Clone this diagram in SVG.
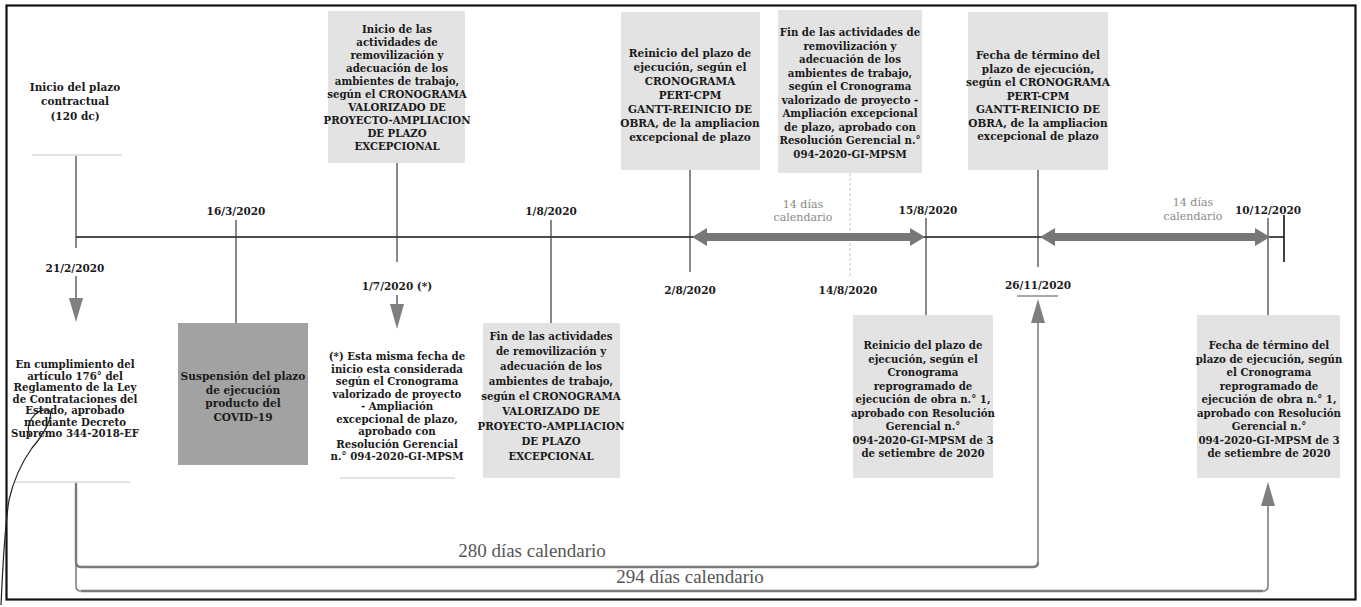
<svg xmlns="http://www.w3.org/2000/svg" width="1361" height="607" viewBox="0 0 1361 607">
<style>
.t{font-family:"DejaVu Serif","Liberation Serif",serif;font-weight:bold;font-size:10.2px;fill:#1a1a1a;text-anchor:middle}
.d{font-family:"DejaVu Serif","Liberation Serif",serif;font-weight:bold;font-size:10.5px;fill:#1a1a1a;text-anchor:middle}
.g{font-family:"DejaVu Serif","Liberation Serif",serif;font-size:11px;fill:#8a8a8a;text-anchor:middle}
.big{font-family:"Liberation Serif",serif;font-size:19px;fill:#555;text-anchor:middle}
.box{fill:#e3e3e3}
.dark{fill:#a2a2a2}
.v{stroke:#3a3a3a;stroke-width:1.2;fill:none}
.vg{stroke:#808080;stroke-width:1.6;fill:none}
.br{stroke:#7a7a7a;stroke-width:2.4;fill:none}
.ah{fill:#7f7f7f}
.dbl{fill:#777}
.faint{stroke:#e2e2e2;stroke-width:2}
</style>
<rect x="0" y="0" width="1361" height="607" fill="#fff"/>
<rect x="6.5" y="5.5" width="1349" height="594" fill="none" stroke="#111" stroke-width="2.2"/>

<g id="connectors">
  <line x1="76" y1="237" x2="1284" y2="237" stroke="#111" stroke-width="1.4"/>
  <line x1="1284" y1="215" x2="1284" y2="262" stroke="#111" stroke-width="1.6"/>
  <line class="v" x1="76" y1="155" x2="76" y2="248"/>
  <line class="v" x1="76" y1="276" x2="76" y2="300"/>
  <line class="v" x1="236" y1="220" x2="236" y2="323"/>
  <line class="v" x1="397" y1="163" x2="397" y2="262"/>
  <line class="v" x1="397" y1="295" x2="397" y2="304"/>
  <line class="v" x1="551" y1="220" x2="551" y2="323"/>
  <line class="v" x1="690" y1="170" x2="690" y2="272"/>
  <line x1="850" y1="173" x2="850" y2="276" stroke="#c4c4c4" stroke-width="1" stroke-dasharray="3 2"/>
  <line class="v" x1="926" y1="218" x2="926" y2="315"/>
  <line class="v" x1="1038" y1="170" x2="1038" y2="267"/>
  <line x1="1017" y1="296" x2="1058" y2="296" stroke="#555" stroke-width="1.2"/>
  <line class="v" x1="1268" y1="218" x2="1268" y2="315"/>
  <polygon class="dbl" points="692,237 707,228 707,233 910,233 910,228 925,237 910,246 910,241 707,241 707,246"/>
  <polygon class="dbl" points="1040,237 1055,228 1055,233 1255,233 1255,228 1270,237 1255,246 1255,241 1055,241 1055,246"/>
  <polygon class="ah" points="69,298 83,298 76,322"/>
  <polygon class="ah" points="390,304 404,304 397,329"/>
  <polygon class="ah" points="1038,299 1045,323 1031,323"/>
  <polygon class="ah" points="1268,482 1275,506 1261,506"/>
  <path class="vg" d="M76,482 V586 Q76,591 81,591 H1263 Q1268,591 1268,586 V506"/>
  <path class="br" d="M76,482 V562 Q76,567 81,567 H1033 Q1038,567 1038,562"/>
  <path class="br" d="M81,591 H1263"/>
  <path class="vg" d="M1038,562 V323"/>
</g>

<g id="n-inicio">
  <text class="d"><tspan x="75" y="91">Inicio del plazo</tspan><tspan x="75" y="105">contractual</tspan><tspan x="75" y="120">(120 dc)</tspan></text>
  <line class="faint" x1="32" y1="155" x2="122" y2="155"/>
  <text class="d" x="75" y="272">21/2/2020</text>
</g>

<g id="n-cumplimiento">
  <text class="t"><tspan x="75" y="368">En cumplimiento del</tspan><tspan x="75" y="379.5">artículo 176° del</tspan><tspan x="75" y="391">Reglamento de la Ley</tspan><tspan x="75" y="402.5">de Contrataciones del</tspan><tspan x="75" y="414">Estado, aprobado</tspan><tspan x="75" y="425.5">mediante Decreto</tspan><tspan x="75" y="437">Supremo 344-2018-EF</tspan></text>
  <line class="faint" x1="15" y1="482" x2="130" y2="482"/>
</g>

<g id="n-covid">
  <text class="d" x="236" y="215">16/3/2020</text>
  <rect class="dark" x="178" y="323" width="130" height="142"/>
  <text class="t" style="font-size:10.6px"><tspan x="243" y="380">Suspensión del plazo</tspan><tspan x="243" y="393.5">de ejecución</tspan><tspan x="243" y="407">producto del</tspan><tspan x="243" y="420.5">COVID-19</tspan></text>
</g>

<g id="n-inicio-act">
  <rect class="box" x="328" y="11" width="137" height="152"/>
  <text class="t"><tspan x="397" y="33">Inicio de las</tspan><tspan x="397" y="46">actividades de</tspan><tspan x="397" y="59">removilización y</tspan><tspan x="397" y="72">adecuación de los</tspan><tspan x="397" y="85">ambientes de trabajo,</tspan><tspan x="397" y="98">según el CRONOGRAMA</tspan><tspan x="397" y="111">VALORIZADO DE</tspan><tspan x="397" y="124">PROYECTO-AMPLIACION</tspan><tspan x="397" y="137">DE PLAZO</tspan><tspan x="397" y="150">EXCEPCIONAL</tspan></text>
  <text class="d" x="397" y="290">1/7/2020 (*)</text>
</g>

<g id="n-nota">
  <text class="t"><tspan x="397" y="360">(*) Esta misma fecha de</tspan><tspan x="397" y="372.5">inicio esta considerada</tspan><tspan x="397" y="385">según el Cronograma</tspan><tspan x="397" y="397.5">valorizado  de proyecto</tspan><tspan x="397" y="410">- Ampliación</tspan><tspan x="397" y="422.5">excepcional de plazo,</tspan><tspan x="397" y="435">aprobado con</tspan><tspan x="397" y="447.5">Resolución Gerencial</tspan><tspan x="397" y="460">n.° 094-2020-GI-MPSM</tspan></text>
  <line class="faint" x1="340" y1="478" x2="455" y2="478"/>
</g>

<g id="n-fin-act">
  <text class="d" x="551" y="215">1/8/2020</text>
  <rect class="box" x="483" y="323" width="137" height="155"/>
  <text class="t"><tspan x="551" y="340">Fin de las actividades</tspan><tspan x="551" y="355">de removilización y</tspan><tspan x="551" y="370">adecuación de los</tspan><tspan x="551" y="385">ambientes de trabajo,</tspan><tspan x="551" y="400">según el CRONOGRAMA</tspan><tspan x="551" y="415">VALORIZADO DE</tspan><tspan x="551" y="430">PROYECTO-AMPLIACION</tspan><tspan x="551" y="445">DE PLAZO</tspan><tspan x="551" y="460">EXCEPCIONAL</tspan></text>
</g>

<g id="n-reinicio">
  <rect class="box" x="621" y="12" width="139" height="158"/>
  <text class="t" style="font-size:10.5px"><tspan x="690" y="57">Reinicio del plazo de</tspan><tspan x="690" y="71">ejecución, según el</tspan><tspan x="690" y="85">CRONOGRAMA</tspan><tspan x="690" y="99">PERT-CPM</tspan><tspan x="690" y="113">GANTT-REINICIO DE</tspan><tspan x="690" y="127">OBRA, de la ampliacion</tspan><tspan x="690" y="141">excepcional de plazo</tspan></text>
  <text class="d" x="690" y="294">2/8/2020</text>
</g>

<g id="n-fin-act2">
  <rect class="box" x="778" y="10" width="144" height="163"/>
  <text class="t"><tspan x="850" y="36">Fin de las actividades de</tspan><tspan x="850" y="49.5">removilización y</tspan><tspan x="850" y="63">adecuación de los</tspan><tspan x="850" y="76.5">ambientes de trabajo,</tspan><tspan x="850" y="90">según el Cronograma</tspan><tspan x="850" y="103.5">valorizado de proyecto -</tspan><tspan x="850" y="117">Ampliación excepcional</tspan><tspan x="850" y="130.5">de plazo, aprobado con</tspan><tspan x="850" y="144">Resolución Gerencial n.°</tspan><tspan x="850" y="157.5">094-2020-GI-MPSM</tspan></text>
  <text class="d" x="848" y="294">14/8/2020</text>
  <text class="g"><tspan x="803" y="208">14 días</tspan><tspan x="803" y="221">calendario</tspan></text>
</g>

<g id="n-reinicio2">
  <text class="d" x="928" y="214">15/8/2020</text>
  <rect class="box" x="853" y="315" width="140" height="163"/>
  <text class="t"><tspan x="923" y="349">Reinicio del plazo de</tspan><tspan x="923" y="362.5">ejecución, según el</tspan><tspan x="923" y="376">Cronograma</tspan><tspan x="923" y="389.5">reprogramado de</tspan><tspan x="923" y="403">ejecución de obra n.° 1,</tspan><tspan x="923" y="416.5">aprobado con Resolución</tspan><tspan x="923" y="430">Gerencial n.°</tspan><tspan x="923" y="443.5">094-2020-GI-MPSM de 3</tspan><tspan x="923" y="457">de setiembre de 2020</tspan></text>
</g>

<g id="n-termino">
  <rect class="box" x="968" y="12" width="140" height="158"/>
  <text class="t" style="font-size:10.5px"><tspan x="1038" y="59">Fecha de término del</tspan><tspan x="1038" y="72.5">plazo de ejecución,</tspan><tspan x="1038" y="86">según el CRONOGRAMA</tspan><tspan x="1038" y="99.5">PERT-CPM</tspan><tspan x="1038" y="113">GANTT-REINICIO DE</tspan><tspan x="1038" y="126.5">OBRA, de la ampliacion</tspan><tspan x="1038" y="140">excepcional de plazo</tspan></text>
  <text class="d" x="1038" y="289">26/11/2020</text>
</g>

<g id="n-termino2">
  <text class="g"><tspan x="1193" y="206">14 días</tspan><tspan x="1193" y="220">calendario</tspan></text>
  <text class="d" x="1268" y="214">10/12/2020</text>
  <rect class="box" x="1197" y="315" width="143" height="163"/>
  <text class="t"><tspan x="1269" y="349">Fecha de término del</tspan><tspan x="1269" y="362.5">plazo de ejecución, según</tspan><tspan x="1269" y="376">el Cronograma</tspan><tspan x="1269" y="389.5">reprogramado de</tspan><tspan x="1269" y="403">ejecución de obra n.° 1,</tspan><tspan x="1269" y="416.5">aprobado con Resolución</tspan><tspan x="1269" y="430">Gerencial n.°</tspan><tspan x="1269" y="443.5">094-2020-GI-MPSM de 3</tspan><tspan x="1269" y="457">de setiembre de 2020</tspan></text>
</g>

<g id="n-totales">
  <text class="big" x="532" y="557">280 días calendario</text>
  <text class="big" x="690" y="583">294 días calendario</text>
</g>

<path d="M30,436 C24,424 36,408 48,410 C56,413 44,434 32,448 C22,462 14,478 9,500 C5,525 3,560 1,605" fill="none" stroke="#222" stroke-width="1.2"/>
</svg>
